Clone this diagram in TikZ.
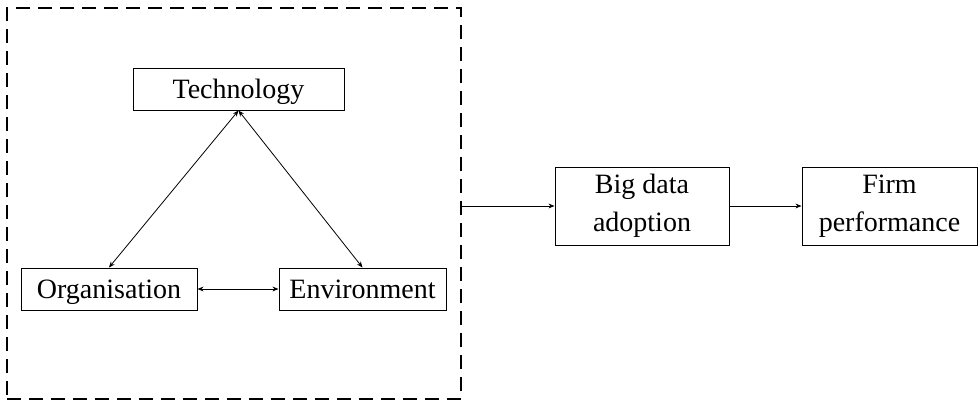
\documentclass[tikz,border=0pt]{standalone}
\usepackage{fontspec}
\setmainfont{Liberation Serif}
\usetikzlibrary{arrows.meta}
\begin{document}
\begin{tikzpicture}[x=0.5pt, y=-0.5pt, >={Stealth[length=3pt, width=2.4pt]}]
  \tikzset{
    box/.style={draw, line width=0.5pt, inner sep=0pt, align=center,
      font=\fontsize{14}{19}\selectfont},
    onebox/.style={box, minimum height=21pt, text height=12pt, text depth=3pt},
    link/.style={line width=0.4pt}
  }
  \useasboundingbox (0,0) rectangle (979,404);

  % ---- the TOE frame, dashed, round the three contexts ---------------------
  \node[draw, dashed, line width=1pt, dash pattern=on 7pt off 4pt,
    minimum width=227pt, minimum height=195.5pt] (frame) at (234,203.5) {};

  \node[onebox, minimum width=105.5pt] (tech) at (238.5,89) {Technology};
  \node[onebox, minimum width=88pt] (org) at (109,289) {Organisation};
  \node[onebox, minimum width=83.5pt] (env) at (362.5,289) {Environment};

  % two-way links inside the frame
  \draw[link, <->] (tech.south) -- (org.north);
  \draw[link, <->] (tech.south) -- (env.north);
  \draw[link, <->] (org.east) -- (env.west);

  % ---- outcome chain --------------------------------------------------------
  \node[box, minimum width=87pt, minimum height=39pt] (bda) at (642,206) {Big data\\adoption};
  \node[box, minimum width=87.5pt, minimum height=39pt] (perf) at (889.5,206) {Firm\\performance};

  \draw[link, ->] (frame.east |- bda.west) -- (bda.west);
  \draw[link, ->] (bda.east) -- (perf.west);
\end{tikzpicture}
\end{document}
